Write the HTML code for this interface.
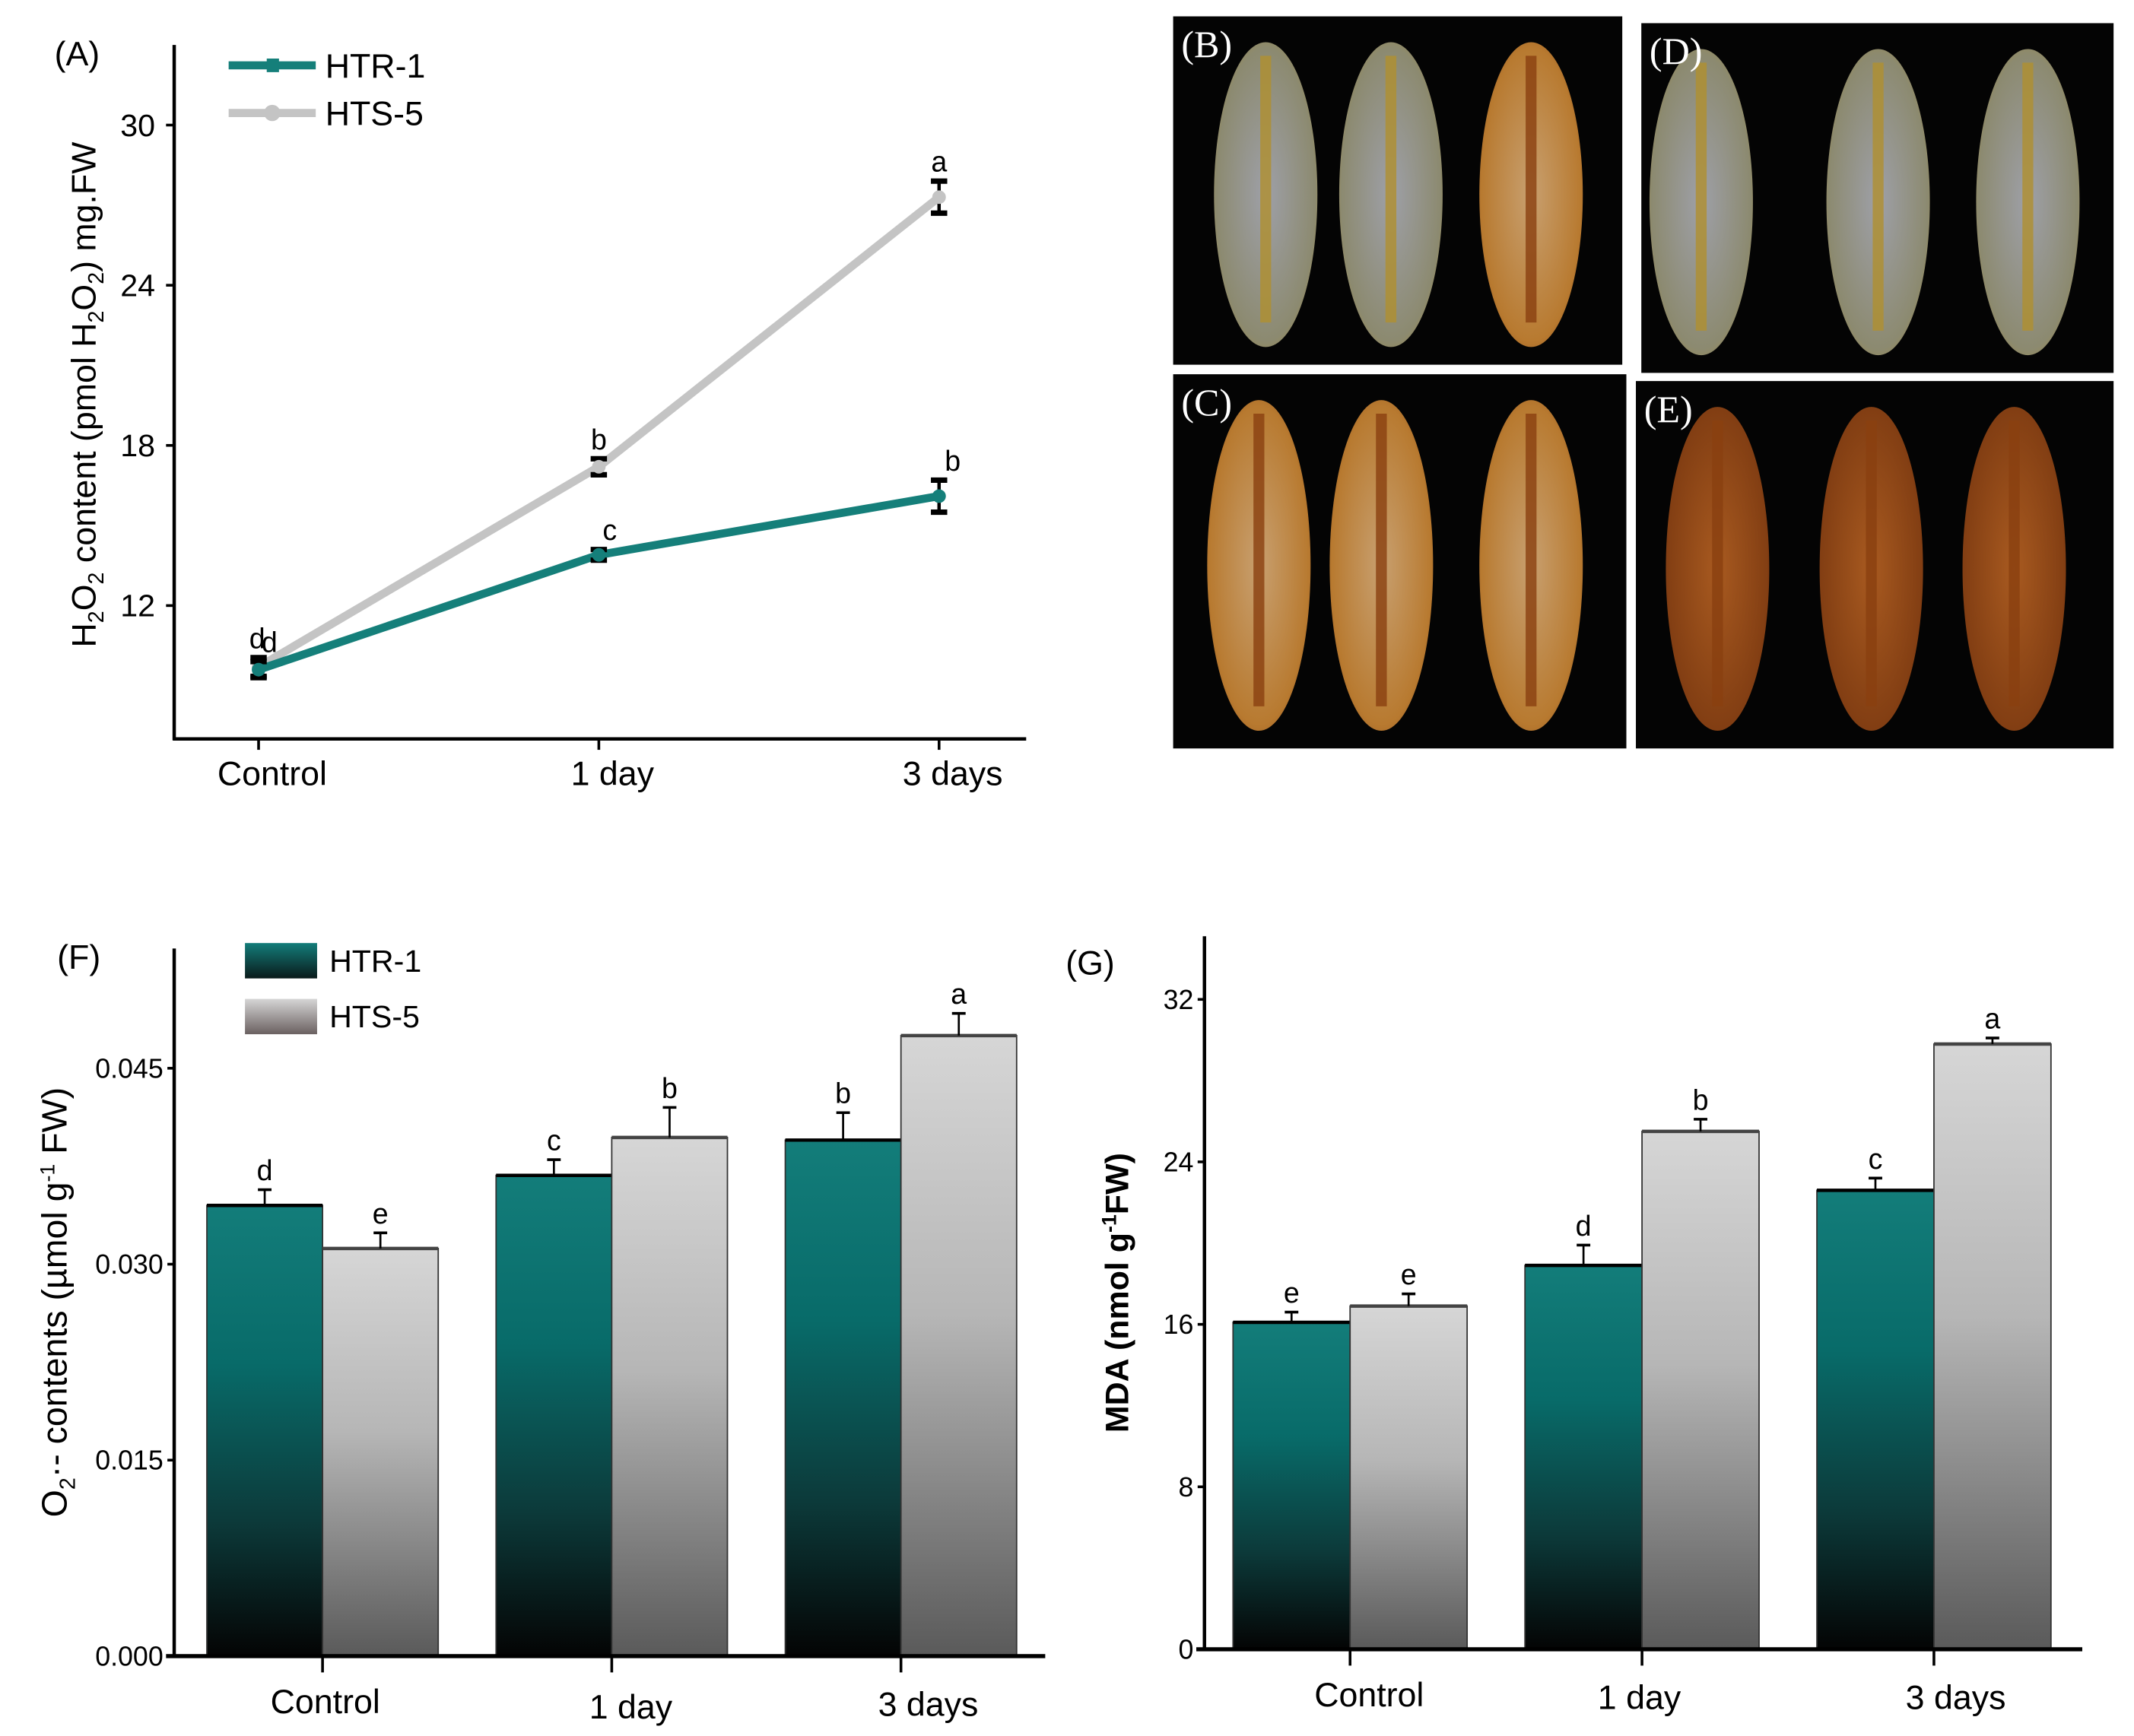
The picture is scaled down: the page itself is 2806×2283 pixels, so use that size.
<!DOCTYPE html>
<html><head><meta charset="utf-8"><style>
html,body{margin:0;padding:0;background:#fff}
svg{display:block}
text{font-family:"Liberation Sans",sans-serif}
text.serif{font-family:"Liberation Serif",serif}
</style></head><body>
<svg id="fig" width="2806" height="2283" viewBox="0 0 1568 1275.7" xmlns="http://www.w3.org/2000/svg">
<defs>
<linearGradient id="gTeal" x1="0" y1="0" x2="0" y2="1">
<stop offset="0" stop-color="#137d7a"/><stop offset="0.35" stop-color="#086b69"/><stop offset="0.7" stop-color="#0c3a3a"/><stop offset="1" stop-color="#040404"/></linearGradient>
<linearGradient id="gGray" x1="0" y1="0" x2="0" y2="1">
<stop offset="0" stop-color="#d6d6d6"/><stop offset="0.45" stop-color="#b6b6b6"/><stop offset="1" stop-color="#5a5a5a"/></linearGradient>
<linearGradient id="gTealL" x1="0" y1="0" x2="0" y2="1"><stop offset="0" stop-color="#137d7a"/><stop offset="1" stop-color="#0a1a1a"/></linearGradient>
<linearGradient id="gGrayL" x1="0" y1="0" x2="0" y2="1"><stop offset="0" stop-color="#d6d6d6"/><stop offset="1" stop-color="#6a6060"/></linearGradient>
<radialGradient id="gPale" cx="0.5" cy="0.5" r="0.6"><stop offset="0" stop-color="#9ea0a8"/><stop offset="0.8" stop-color="#8c8a70"/><stop offset="1" stop-color="#a08a40"/></radialGradient>
<radialGradient id="gOrange" cx="0.5" cy="0.5" r="0.6"><stop offset="0" stop-color="#c8a070"/><stop offset="0.8" stop-color="#b87a30"/><stop offset="1" stop-color="#9a5a20"/></radialGradient>
<radialGradient id="gBrown" cx="0.5" cy="0.5" r="0.6"><stop offset="0" stop-color="#a85a20"/><stop offset="1" stop-color="#7a3810"/></radialGradient>
</defs>
<g id="panelA"></g>
<g id="photos"></g>
<g id="panelF"></g>
<g id="panelG"></g>
</svg>
<script>
const categories = ["Control", "1 day", "3 days"];
const seriesNames = ["HTR-1", "HTS-5"];
// Panel A: H2O2
const aTicks = [12, 18, 24, 30];
const aHTR = [9.6, 13.9, 16.1];
const aHTS = [9.7, 17.2, 27.3];
const aHTRerr = [0.3, 0.2, 0.6];
const aHTSerr = [0.35, 0.3, 0.6];
const aHTRlet = ["d", "c", "b"];
const aHTSlet = ["d", "b", "a"];
// Panel F: O2- contents
const fTicks = ["0.000", "0.015", "0.030", "0.045"];
const fHTR = [0.0345, 0.0368, 0.0395];
const fHTS = [0.0312, 0.0397, 0.0475];
const fHTRerr = [0.0012, 0.0012, 0.0021];
const fHTSerr = [0.0012, 0.0023, 0.0017];
const fHTRlet = ["d", "c", "b"];
const fHTSlet = ["e", "b", "a"];
// Panel G: MDA
const gTicks = ["0", "8", "16", "24", "32"];
const gHTR = [16.1, 18.9, 22.6];
const gHTS = [16.9, 25.5, 29.8];
const gHTRerr = [0.5, 1.0, 0.6];
const gHTSerr = [0.6, 0.6, 0.3];
const gHTRlet = ["e", "d", "c"];
const gHTSlet = ["e", "b", "a"];

const NS = "http://www.w3.org/2000/svg";
function mk(tag, attrs, parent, txt) {
  const e = document.createElementNS(NS, tag);
  for (const k in attrs) e.setAttribute(k, attrs[k]);
  if (txt !== undefined) e.textContent = txt;
  parent.appendChild(e);
  return e;
}

// ---------- Panel A ----------
(function () {
  const g = document.getElementById('panelA');
  const yA = v => 445 - (v - 12) * (117.7 / 6);
  const xA = i => 190 + i * 250;
  let e;
  e = mk('line', {x1: 128, y1: 33, x2: 128, y2: 544, stroke: '#000', 'stroke-width': 2.5}, g);
   
  e = mk('line', {x1: 127, y1: 543, x2: 754, y2: 543, stroke: '#000', 'stroke-width': 2.5}, g);
   
  aTicks.forEach(t => {
    const y = yA(t);
    mk('line', {x1: 122, y1: y, x2: 128, y2: y, stroke: '#000', 'stroke-width': 2}, g);
    e = mk('text', {x: 114, y: y + 8, 'text-anchor': 'end', 'font-size': 23}, g, String(t));
     
  });
  categories.forEach((c, i) => {
    mk('line', {x1: xA(i), y1: 543, x2: xA(i), y2: 551, stroke: '#000', 'stroke-width': 2}, g);
    e = mk('text', {x: xA(i) + 10, y: 577, 'text-anchor': 'middle', 'font-size': 25}, g, c);
     
  });
  e = mk('text', {x: 40, y: 48, 'font-size': 25}, g, '(A)');
   
  const yl = mk('text', {transform: 'translate(70,290) rotate(-90)', 'text-anchor': 'middle', 'font-size': 25}, g);
   
  yl.innerHTML = 'H<tspan dy="6" font-size="16">2</tspan><tspan dy="-6">O</tspan><tspan dy="6" font-size="16">2</tspan><tspan dy="-6"> content (pmol H</tspan><tspan dy="6" font-size="16">2</tspan><tspan dy="-6">O</tspan><tspan dy="6" font-size="16">2</tspan><tspan dy="-6">) mg.FW</tspan>';
  function series(vals, errs, lets, color, name, ldx) {
    const pts = vals.map((v, i) => xA(i) + ',' + yA(v)).join(' ');
    e = mk('polyline', {points: pts, fill: 'none', stroke: color, 'stroke-width': 6}, g);
     
    vals.forEach((v, i) => {
      const x = xA(i), y1 = yA(v + errs[i]), y2 = yA(v - errs[i]);
      mk('line', {x1: x, y1: y1, x2: x, y2: y2, stroke: '#000', 'stroke-width': 2.5}, g);
      mk('line', {x1: x - 6, y1: y1, x2: x + 6, y2: y1, stroke: '#000', 'stroke-width': 4}, g);
      mk('line', {x1: x - 6, y1: y2, x2: x + 6, y2: y2, stroke: '#000', 'stroke-width': 4}, g);
      e = mk('circle', {cx: x, cy: yA(v), r: 5, fill: color}, g);
       
      e = mk('text', {x: x + ldx[i], y: y1 - 7, 'text-anchor': 'middle', 'font-size': 21}, g, lets[i]);
       
    });
  }
  series(aHTS, aHTSerr, aHTSlet, '#c4c4c4', 'hts5', [-1, 0, 0]);
  series(aHTR, aHTRerr, aHTRlet, '#157f7a', 'htr1', [8, 8, 10]);
  e = mk('line', {x1: 168, y1: 48, x2: 232, y2: 48, stroke: '#157f7a', 'stroke-width': 6}, g);
   
  mk('rect', {x: 196, y: 43, width: 9, height: 10, fill: '#157f7a'}, g);
  e = mk('text', {x: 239, y: 57, 'font-size': 25}, g, 'HTR-1');
   
  e = mk('line', {x1: 168, y1: 83, x2: 232, y2: 83, stroke: '#c4c4c4', 'stroke-width': 6}, g);
   
  mk('circle', {cx: 200, cy: 83, r: 6, fill: '#c4c4c4'}, g);
  e = mk('text', {x: 239, y: 92, 'font-size': 25}, g, 'HTS-5');
   
})();

// ---------- Photos ----------
(function () {
  const g = document.getElementById('photos');
  const boxes = [
    {n: 'B', x: 862, y: 12, w: 330, h: 256, cx: [930, 1022, 1125], fill: ['gPale', 'gPale', 'gOrange']},
    {n: 'D', x: 1206, y: 17, w: 347, h: 257, cx: [1250, 1380, 1490], fill: ['gPale', 'gPale', 'gPale']},
    {n: 'C', x: 862, y: 275, w: 333, h: 275, cx: [925, 1015, 1125], fill: ['gOrange', 'gOrange', 'gOrange']},
    {n: 'E', x: 1202, y: 280, w: 351, h: 270, cx: [1262, 1375, 1480], fill: ['gBrown', 'gBrown', 'gBrown']}
  ];
  boxes.forEach(b => {
    let e = mk('rect', {x: b.x, y: b.y, width: b.w, height: b.h, fill: '#040404'}, g);
     
    b.cx.forEach((cx, i) => {
      const cy = b.y + b.h / 2 + 3;
      e = mk('ellipse', {cx: cx, cy: cy, rx: 38, ry: b.h / 2 - 16, fill: 'url(#' + b.fill[i] + ')'}, g);
       
      mk('line', {x1: cx, y1: cy - b.h / 2 + 26, x2: cx, y2: cy + b.h / 2 - 34, stroke: b.fill[i] === 'gPale' ? '#b09030' : '#8a4010', 'stroke-width': 8, opacity: 0.8}, g);
    });
    e = mk('text', {x: b.x + 6, y: b.y + 30, 'font-size': 28, fill: '#fff', class: 'serif'}, g, '(' + b.n + ')');
     
  });
})();

// ---------- Bar panels ----------
function barPanel(id, cfg) {
  const g = document.getElementById(id);
  const y = v => cfg.y0 - (v / cfg.tickStep) * cfg.tickPx;
  let e;
  const groupX = i => cfg.g0 + i * cfg.gStep;
  [cfg.htr, cfg.hts].forEach((vals, s) => {
    vals.forEach((v, i) => {
      const x = groupX(i) + s * cfg.bw;
      e = mk('rect', {x: x, y: y(v), width: cfg.bw, height: cfg.y0 - y(v), fill: s === 0 ? 'url(#gTeal)' : 'url(#gGray)', stroke: '#333', 'stroke-width': 1}, g);
       
      mk('line', {x1: x, y1: y(v), x2: x + cfg.bw, y2: y(v), stroke: s === 0 ? '#000' : '#444', 'stroke-width': 2.5}, g);
      const err = s === 0 ? cfg.htrErr[i] : cfg.htsErr[i];
      const cx = x + cfg.bw / 2, ye = y(v + err);
      mk('line', {x1: cx, y1: y(v), x2: cx, y2: ye, stroke: '#000', 'stroke-width': 1.5}, g);
      mk('line', {x1: cx - 5, y1: ye, x2: cx + 5, y2: ye, stroke: '#000', 'stroke-width': 2}, g);
      e = mk('text', {x: cx, y: ye - 7, 'text-anchor': 'middle', 'font-size': 21}, g, s === 0 ? cfg.htrLet[i] : cfg.htsLet[i]);
       
    });
  });
  e = mk('line', {x1: cfg.ax, y1: cfg.top, x2: cfg.ax, y2: cfg.y0 + 1, stroke: '#000', 'stroke-width': 2.5}, g);
   
  e = mk('line', {x1: cfg.ax - 6, y1: cfg.y0, x2: cfg.xEnd, y2: cfg.y0, stroke: '#000', 'stroke-width': 3}, g);
   
  cfg.ticks.forEach(t => {
    const yy = y(parseFloat(t));
    mk('line', {x1: cfg.ax - 5, y1: yy, x2: cfg.ax, y2: yy, stroke: '#000', 'stroke-width': 2}, g);
    e = mk('text', {x: cfg.ax - 8, y: yy + 7, 'text-anchor': 'end', 'font-size': 20}, g, t);
     
  });
  categories.forEach((c, i) => {
    const x = groupX(i) + cfg.bw;
    mk('line', {x1: x, y1: cfg.y0, x2: x, y2: cfg.y0 + 12, stroke: '#000', 'stroke-width': 2}, g);
    e = mk('text', {x: x + cfg.lblDx[i], y: cfg.y0 + cfg.lblDy[i], 'text-anchor': 'middle', 'font-size': 25}, g, c);
     
  });
  e = mk('text', {x: cfg.plx, y: cfg.ply, 'font-size': 25}, g, cfg.panel);
   
  const yl = mk('text', {transform: 'translate(' + cfg.ylx + ',' + cfg.yly + ') rotate(-90)', 'text-anchor': 'middle', 'font-size': cfg.ytSize, 'font-weight': cfg.bold ? 'bold' : 'normal'}, g);
   
  yl.innerHTML = cfg.ytitle;
  if (cfg.legend) {
    e = mk('rect', {x: 180, y: 693, width: 53, height: 26, fill: 'url(#gTealL)'}, g);
     
    e = mk('text', {x: 242, y: 714, 'font-size': 23}, g, seriesNames[0]);
     
    e = mk('rect', {x: 180, y: 734, width: 53, height: 26, fill: 'url(#gGrayL)'}, g);
     
    e = mk('text', {x: 242, y: 755, 'font-size': 23}, g, seriesNames[1]);
     
  }
}
barPanel('panelF', {
  y0: 1217, tickStep: 0.015, tickPx: 144, top: 697, ax: 128, xEnd: 768,
  g0: 152, gStep: 212.5, bw: 85, htr: fHTR, hts: fHTS, htrErr: fHTRerr, htsErr: fHTSerr,
  htrLet: fHTRlet, htsLet: fHTSlet, ticks: fTicks, lblDx: [2, 14, 20], lblDy: [42, 46, 44],
  panel: '(F)', plx: 42, ply: 712, ylx: 49, yly: 957, bold: false, legend: true, ytSize: 26,
  ytitle: 'O<tspan dy="6" font-size="16">2</tspan><tspan dy="-6">·- contents (µmol g</tspan><tspan dy="-9" font-size="15">-1</tspan><tspan dy="9"> FW)</tspan>'
});
barPanel('panelG', {
  y0: 1212, tickStep: 8, tickPx: 119.4, top: 688, ax: 885, xEnd: 1530,
  g0: 906, gStep: 214.5, bw: 86, htr: gHTR, hts: gHTS, htrErr: gHTRerr, htsErr: gHTSerr,
  htrLet: gHTRlet, htsLet: gHTSlet, ticks: gTicks, lblDx: [14, -2, 16], lblDy: [42, 44, 44],
  panel: '(G)', plx: 783, ply: 716, ylx: 829, yly: 950, bold: true, legend: false, ytSize: 24,
  ytitle: 'MDA (nmol g<tspan dy="-9" font-size="15">-1</tspan><tspan dy="9">FW)</tspan>'
});
</script>
</body></html>
